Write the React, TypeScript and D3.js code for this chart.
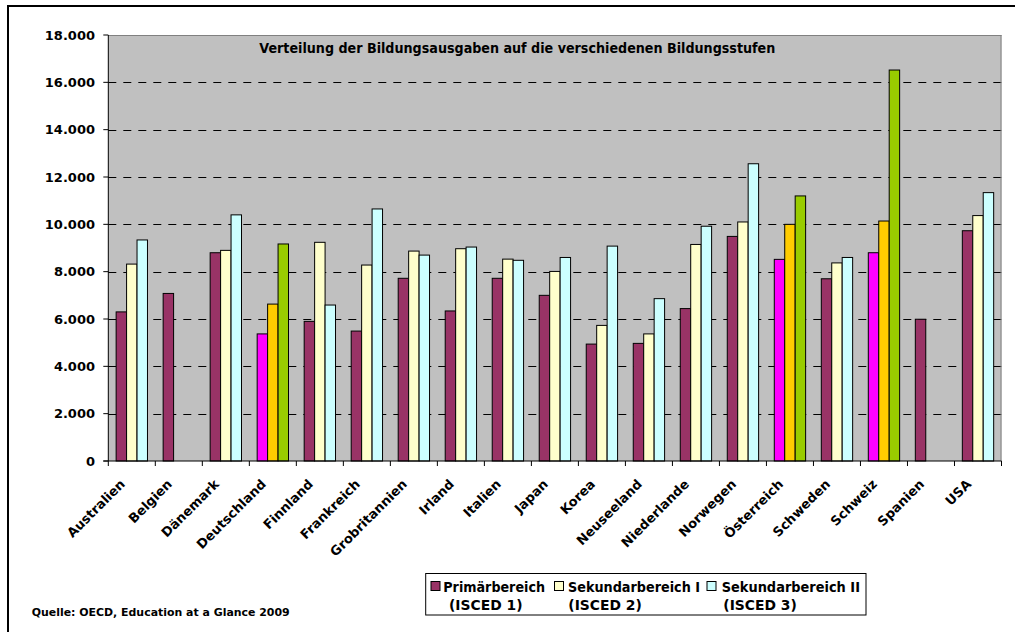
import React from "react";
import * as d3 from "d3";

const countries = [
  "Australien", "Belgien", "Dänemark", "Deutschland", "Finnland", "Frankreich",
  "Grobritannien", "Irland", "Italien", "Japan", "Korea", "Neuseeland",
  "Niederlande", "Norwegen", "Österreich", "Schweden", "Schweiz", "Spanien", "USA",
];
const primar: (number | null)[] = [
  6300, 7080, 8800, 5370, 5900, 5490, 7720, 6340, 7720, 7000, 4940, 4970,
  6440, 9490, 8520, 7700, 8800, 5990, 9730,
];
const sekI: (number | null)[] = [
  8320, null, 8900, 6630, 9240, 8280, 8870, 8970, 8530, 8010, 5730, 5370,
  9150, 10100, 10000, 8370, 10140, null, 10370,
];
const sekII: (number | null)[] = [
  9340, null, 10400, 9170, 6590, 10650, 8700, 9040, 8480, 8600, 9080, 6860,
  9920, 12560, 11200, 8600, 16520, null, 11340,
];
const yTicks = [0, 2000, 4000, 6000, 8000, 10000, 12000, 14000, 16000, 18000];
const seriesNames = ["Primärbereich", "Sekundarbereich I", "Sekundarbereich II"];
const seriesSub = ["(ISCED 1)", "(ISCED 2)", "(ISCED 3)"];
const seriesColors = ["#993366", "#FFFFCC", "#CCFFFF"];
const highlightCountries = ["Deutschland", "Österreich", "Schweiz"];
const highlightColors = ["#FF00FF", "#FFCC00", "#99CC00"];
const title = "Verteilung der Bildungsausgaben auf die verschiedenen Bildungsstufen";
const source = "Quelle: OECD, Education at a Glance 2009";

const W = 1015;
const H = 632;
const plot = { left: 108.3, right: 1001.5, top: 35, bottom: 461 };
const FONT = "'DejaVu Sans', sans-serif";

const de = d3.formatLocale({ decimal: ",", thousands: ".", grouping: [3], currency: ["", "€"] });
const fmt = de.format(",.0f");

export default function App() {
  const x = d3.scaleBand<string>().domain(countries).range([plot.left, plot.right]).paddingInner(0).paddingOuter(0);
  const y = d3.scaleLinear().domain([0, 18000]).range([plot.bottom, plot.top]);
  const series = [primar, sekI, sekII];
  const bw = x.bandwidth() / 4.5;
  const off = (x.bandwidth() - 3 * bw) / 2;

  const legendX = [431, 554.5, 707];
  const legendText1W = [101.7, 132, 138.3];
  const legendText1X = [443.3, 568, 721.7];
  const legendText2X = [449, 568.3, 723.3];

  return (
    <svg width={W} height={H} style={{ position: "absolute", left: 0, top: 0, background: "#fff" }}>
      <rect x={8} y={6} width={W + 20} height={H + 20} fill="#fff" stroke="#000" strokeWidth={2} />
      {/* plot background */}
      <rect x={plot.left} y={plot.top} width={plot.right - plot.left} height={plot.bottom - plot.top} fill="#C0C0C0" />
      {/* gridlines */}
      {yTicks.filter((t) => t > 0 && t < 18000).map((t) => (
        <line key={t} x1={plot.left} x2={plot.right} y1={Math.round(y(t)) + 0.5} y2={Math.round(y(t)) + 0.5}
          stroke="#000" strokeWidth={1} strokeDasharray="8,7" />
      ))}
      <line x1={plot.left} x2={plot.right} y1={plot.top + 0.5} y2={plot.top + 0.5} stroke="#808080" />
      <line x1={plot.right - 0.5} x2={plot.right - 0.5} y1={plot.top} y2={plot.bottom} stroke="#808080" />
      <text x={259.3} y={53} fontFamily={FONT} fontWeight="bold" fontSize={13.5} textLength={516}
        lengthAdjust="spacingAndGlyphs" fill="#000">{title}</text>
      {/* bars */}
      {countries.map((c, i) => {
        const hi = highlightCountries.indexOf(c);
        return series.map((s, k) => {
          const v = s[i];
          if (v == null) return null;
          const bx = (x(c) as number) + off + k * bw;
          const col = hi >= 0 ? highlightColors[k] : seriesColors[k];
          return (
            <rect key={c + k} x={bx} y={y(v)} width={bw} height={plot.bottom - y(v)}
              fill={col} stroke="#000" strokeWidth={1} />
          );
        });
      })}
      {/* axes */}
      <line x1={plot.left} x2={plot.left} y1={plot.top} y2={plot.bottom} stroke="#000" strokeWidth={1} />
      <line x1={plot.left - 5} x2={plot.right} y1={plot.bottom} y2={plot.bottom} stroke="#000" strokeWidth={1} />
      {yTicks.map((t) => (
        <g key={t}>
          <line x1={plot.left - 5} x2={plot.left} y1={y(t)} y2={y(t)} stroke="#000" />
          <text x={95} y={y(t)} dy="0.36em" textAnchor="end" fontFamily={FONT} fontWeight="bold"
            fontSize={13} fill="#000">{fmt(t)}</text>
        </g>
      ))}
      {countries.map((c, i) => (
        <line key={"t" + c} x1={(x(c) as number)} x2={(x(c) as number)} y1={plot.bottom} y2={plot.bottom + 5} stroke="#000" />
      ))}
      <line x1={plot.right} x2={plot.right} y1={plot.bottom} y2={plot.bottom + 5} stroke="#000" />
      {countries.map((c) => {
        const cx = (x(c) as number) + x.bandwidth() / 2 - 6;
        return (
          <text key={"l" + c} transform={`translate(${cx},${485}) rotate(-45)`} textAnchor="end"
            fontFamily={FONT} fontWeight="bold" fontSize={13} fill="#000">{c}</text>
        );
      })}
      {/* legend */}
      <rect x={425.7} y={573.5} width={440.3} height={41.5} fill="#fff" stroke="#000" strokeWidth={1} />
      {seriesNames.map((n, k) => (
        <g key={n}>
          <rect x={legendX[k]} y={581.5} width={9} height={9} fill={seriesColors[k]} stroke="#000" strokeWidth={1} />
          <text x={legendText1X[k]} y={591.5} fontFamily={FONT} fontWeight="bold" fontSize={14}
            textLength={legendText1W[k]} lengthAdjust="spacingAndGlyphs" fill="#000">{n}</text>
          <text x={legendText2X[k]} y={609.5} fontFamily={FONT} fontWeight="bold" fontSize={14}
            textLength={73.5} lengthAdjust="spacingAndGlyphs" fill="#000">{seriesSub[k]}</text>
        </g>
      ))}
      <text x={31.7} y={615.5} fontFamily={FONT} fontWeight="bold" fontSize={11} textLength={258}
        lengthAdjust="spacingAndGlyphs" fill="#000">{source}</text>
    </svg>
  );
}
